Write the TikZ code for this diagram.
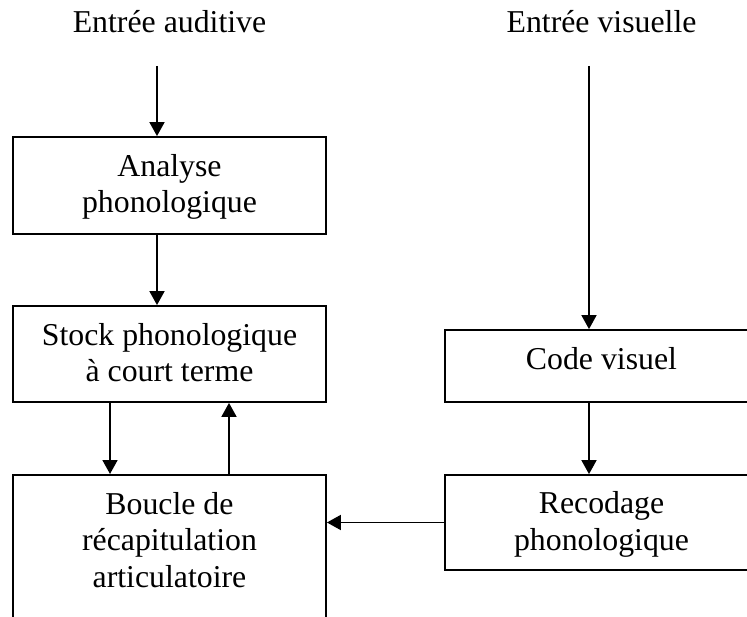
\documentclass[tikz,border=0pt]{standalone}
\usepackage{fontspec}
\setmainfont{Liberation Serif}
\usetikzlibrary{arrows.meta}
\begin{document}
\begin{tikzpicture}[x=1pt,y=-1pt,
  box/.style={draw,line width=1.8pt,minimum width=313pt,inner sep=0pt},
  txt/.style={anchor=base,align=center,inner sep=0pt,font=\fontsize{31.8}{36.5}\selectfont},
  arr/.style={line width=1.8pt,-{Triangle[length=14pt,width=15pt]}},
  ln/.style={line width=1.8pt}]
\useasboundingbox (0,0) rectangle (747,617);
% left column
\node[box,minimum height=97pt] (analyse) at (169.5,185.5) {};
\node[box,minimum height=96pt] (stock) at (169.5,354) {};
\node[box,minimum height=200pt,anchor=north] (boucle) at (169.5,474) {};
% right column
\node[box,minimum height=72pt] (code) at (601.5,366) {};
\node[box,minimum height=95pt] (recodage) at (601.5,522.5) {};
% texts (base = baseline of last line)
\node[txt] (audin) at (169.5,33) {Entrée auditive};
\node[txt] (visin) at (601.5,33) {Entrée visuelle};
\node[txt] (analyset) at (169.5,213) {Analyse\\phonologique};
\node[txt] (stockt) at (169.5,381.7) {Stock phonologique\\à court terme};
\node[txt] (bouclet) at (169.5,587) {Boucle de\\récapitulation\\articulatoire};
\node[txt] (codet) at (601.5,370) {Code visuel};
\node[txt] (recodaget) at (601.5,550) {Recodage\\phonologique};
% connectors
\coordinate (a0) at (157,66);
\coordinate (v0) at (589,66);
\draw[arr] (a0) -- (a0 |- analyse.north);
\draw[arr] (a0 |- analyse.south) -- (a0 |- stock.north);
\coordinate (sd) at (110,0);
\coordinate (su) at (229,0);
\draw[arr] (sd |- stock.south) -- (sd |- boucle.north);
\draw[arr] (su |- boucle.north) -- (su |- stock.south);
\draw[arr] (v0) -- (v0 |- code.north);
\draw[arr] (v0 |- code.south) -- (v0 |- recodage.north);
\draw[arr] (recodage.west) -- (recodage.west -| boucle.east);
\end{tikzpicture}
\end{document}
